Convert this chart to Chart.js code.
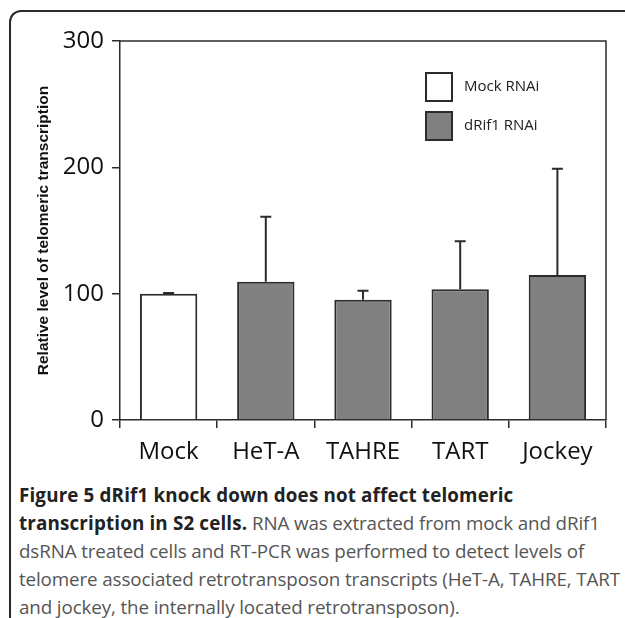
<!DOCTYPE html>
<html>
<head>
<meta charset="utf-8">
<script src="https://cdn.jsdelivr.net/npm/chart.js@4/dist/chart.umd.min.js"></script>
<style>
  body { margin: 0; background: #fff; }
  #wrap { position: relative; width: 625px; height: 618px; overflow: hidden; }
  #frame { position: absolute; left: 9px; top: 10px; width: 700px; height: 610px;
           border-top: 2px solid #2b2b2b; border-left: 2px solid #2b2b2b; border-top-left-radius: 12px; }
  #chart { position: absolute; left: 0; top: 0; }
  #caption { position: absolute; left: 19px; top: 481px; font-family: "Open Sans", sans-serif;
             font-size: 18.8px; line-height: 28px; color: #555; white-space: nowrap; letter-spacing: -0.12px; }
  #caption b { color: #222; letter-spacing: 0.16px; }
</style>
</head>
<body>
<div id="wrap">
  <div id="frame"></div>
  <canvas id="chart" width="625" height="480"></canvas>
  <div id="caption">
    <b>Figure 5 dRif1 knock down does not affect telomeric</b><br>
    <b>transcription in S2 cells.</b> RNA was extracted from mock and dRif1<br>
    dsRNA treated cells and RT-PCR was performed to detect levels of<br>
    telomere associated retrotransposon transcripts (HeT-A, TAHRE, TART<br>
    and jockey, the internally located retrotransposon).
  </div>
</div>
<script>
// data
const categories = ['Mock', 'HeT-A', 'TAHRE', 'TART', 'Jockey'];
const mockValues = [100, null, null, null, null];
const mockErrors = [0.5, null, null, null, null];
const drif1Values = [null, 109.5, 95.2, 103.5, 114.8];
const drif1Errors = [null, 51.4, 7.2, 38, 84];
const yTicks = [0, 100, 200, 300];

const axisColor = '#2b2b2b';

// error bars drawn above each bar (upper side only)
const errorBars = {
    id: 'errorBars',
    afterDatasetsDraw(chart) {
        const ctx = chart.ctx;
        const y = chart.scales.y;
        chart.data.datasets.forEach((ds, di) => {
            const meta = chart.getDatasetMeta(di);
            meta.data.forEach((bar, i) => {
                const v = ds.data[i], e = ds.errors[i];
                if (v == null || e == null) return;
                const yTop = y.getPixelForValue(v + e);
                const yBase = y.getPixelForValue(v);
                ctx.save();
                ctx.strokeStyle = axisColor;
                ctx.lineWidth = 2;
                ctx.beginPath();
                ctx.moveTo(bar.x, yBase);
                ctx.lineTo(bar.x, yTop);
                ctx.moveTo(bar.x - 5.5, yTop);
                ctx.lineTo(bar.x + 5.5, yTop);
                ctx.stroke();
                ctx.restore();
            });
        });
    }
};

// top and right edges of the plot box
const plotBox = {
    id: 'plotBox',
    afterDraw(chart) {
        const a = chart.chartArea, ctx = chart.ctx;
        ctx.save();
        ctx.strokeStyle = axisColor;
        ctx.lineWidth = 1.5;
        ctx.beginPath();
        ctx.moveTo(a.left, a.top);
        ctx.lineTo(a.right, a.top);
        ctx.lineTo(a.right, a.bottom);
        ctx.stroke();
        ctx.restore();
    }
};

// legend inside the plot, top right
const boxLegend = {
    id: 'boxLegend',
    afterDraw(chart) {
        const ctx = chart.ctx;
        ctx.save();
        chart.data.datasets.forEach((ds, i) => {
            const bx = 426, by = 73 + i * 39;
            ctx.fillStyle = ds.backgroundColor;
            ctx.fillRect(bx, by, 26, 28);
            ctx.strokeStyle = axisColor;
            ctx.lineWidth = 2;
            ctx.strokeRect(bx, by, 26, 28);
            ctx.fillStyle = '#222';
            ctx.font = '15px "Open Sans"';
            ctx.textBaseline = 'middle';
            ctx.fillText(ds.label, 464, by + 14);
        });
        ctx.restore();
    }
};

const ctx = document.getElementById('chart').getContext('2d');
const myChart = new Chart(ctx, {
    type: 'bar',
    data: {
        labels: categories,
        datasets: [{
            label: 'Mock RNAi',
            data: mockValues,
            errors: mockErrors,
            backgroundColor: '#ffffff',
            borderColor: axisColor,
            borderWidth: 2
        }, {
            label: 'dRif1 RNAi',
            data: drif1Values,
            errors: drif1Errors,
            backgroundColor: '#808080',
            borderColor: axisColor,
            borderWidth: 2
        }]
    },
    options: {
        responsive: false,
        animation: false,
        skipNull: true,
        categoryPercentage: 1,
        barPercentage: 0.59,
        layout: { padding: { top: 41, right: 19, left: 0, bottom: 0 } },
        plugins: {
            legend: { display: false },
            tooltip: { enabled: false }
        },
        scales: {
            x: {
                afterFit: (s) => { s.height = 60; },
                grid: { drawOnChartArea: false, drawTicks: true, tickLength: 8, color: axisColor, lineWidth: 1.5, offset: true },
                border: { display: true, color: axisColor, width: 1.5 },
                ticks: { color: '#111', padding: 10, font: { family: 'Open Sans', size: 24 } }
            },
            y: {
                min: 0,
                max: 300,
                afterFit: (s) => { s.width = 120; },
                afterBuildTicks: (s) => { s.ticks = yTicks.map(v => ({ value: v })); },
                grid: { drawOnChartArea: false, drawTicks: true, tickLength: 8, color: axisColor, lineWidth: 1.5 },
                border: { display: true, color: axisColor, width: 1.5 },
                ticks: { color: '#111', padding: 8, font: { family: 'Open Sans', size: 24 } },
                title: {
                    display: true,
                    text: 'Relative level of telomeric transcription',
                    color: '#111',
                    padding: { top: 34, bottom: 0 },
                    font: { family: 'Liberation Sans', size: 15.5, weight: 'bold' }
                }
            }
        }
    },
    plugins: [errorBars, plotBox, boxLegend]
});
</script>
</body>
</html>
